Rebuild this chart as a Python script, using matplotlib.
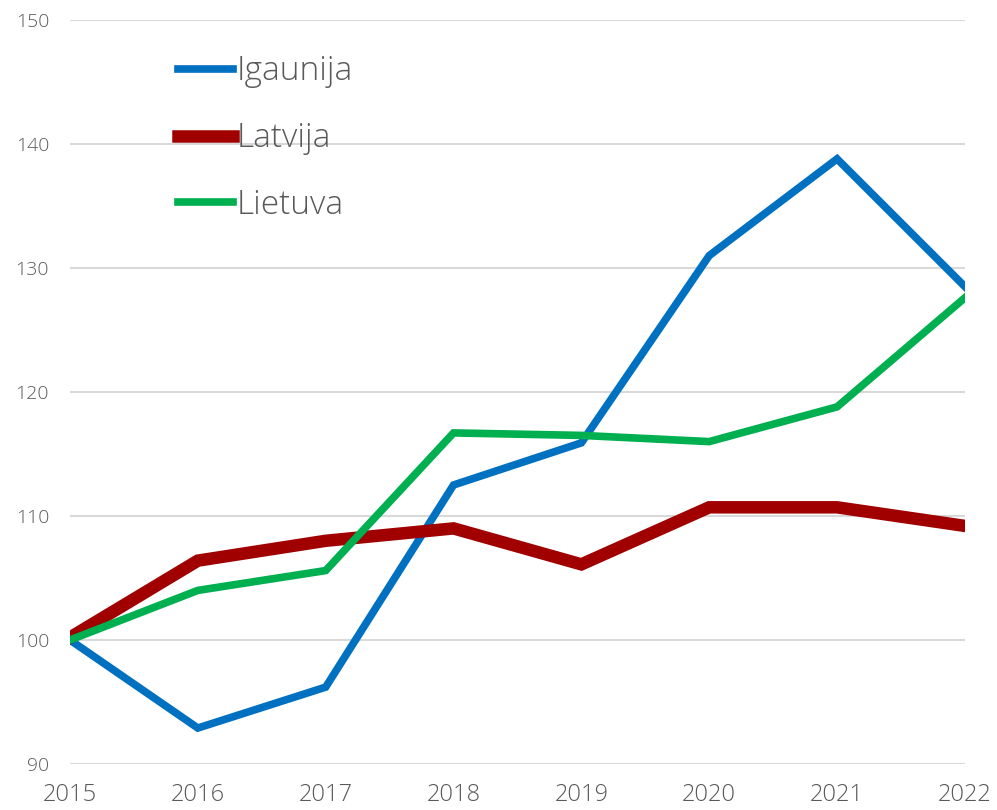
import matplotlib.pyplot as plt

# donnees (indice, 2015 = 100)
annees = [2015, 2016, 2017, 2018, 2019, 2020, 2021, 2022]
igaunija = [100.0, 92.9, 96.2, 112.5, 115.9, 131.0, 138.8, 128.5]
latvija = [100.2, 106.4, 108.0, 109.0, 106.1, 110.7, 110.7, 109.2]
lietuva = [100.0, 104.0, 105.6, 116.7, 116.5, 116.0, 118.8, 127.6]

plt.rcParams['font.family'] = ['Open Sans', 'DejaVu Sans']
plt.rcParams['font.weight'] = 'light'

fig = plt.figure(figsize=(9.97, 8.10), dpi=100)
ax = fig.add_axes([0.0702, 0.0568, 0.8976, 0.9185])

ax.plot(annees, igaunija, color='#0070C0', lw=5.5, label='Igaunija', solid_joinstyle='miter')
ax.plot(annees, latvija, color='#A00000', lw=9, label='Latvija', solid_joinstyle='miter')
ax.plot(annees, lietuva, color='#00B050', lw=5.5, label='Lietuva', solid_joinstyle='miter')

ax.set_xlim(2015, 2022)
ax.set_ylim(90, 150)
ax.set_xticks(annees)
ax.set_yticks(range(90, 151, 10))

ax.grid(axis='y', color='#D9D9D9', lw=1.5)
ax.set_axisbelow(True)
for s in ax.spines.values():
    s.set_visible(False)

ax.tick_params(axis='x', length=0, pad=14, labelsize=17, labelcolor='#595959')
ax.tick_params(axis='y', length=0, pad=15, labelsize=14, labelcolor='#595959')

leg = ax.legend(loc='upper left', bbox_to_anchor=(0.1207, 0.953), frameon=False,
                fontsize=24, handlelength=1.65, handletextpad=0.12, labelspacing=1.0,
                borderaxespad=0, borderpad=0)
for t in leg.get_texts():
    t.set_color('#595959')

fig.savefig('out.png', dpi=100)
